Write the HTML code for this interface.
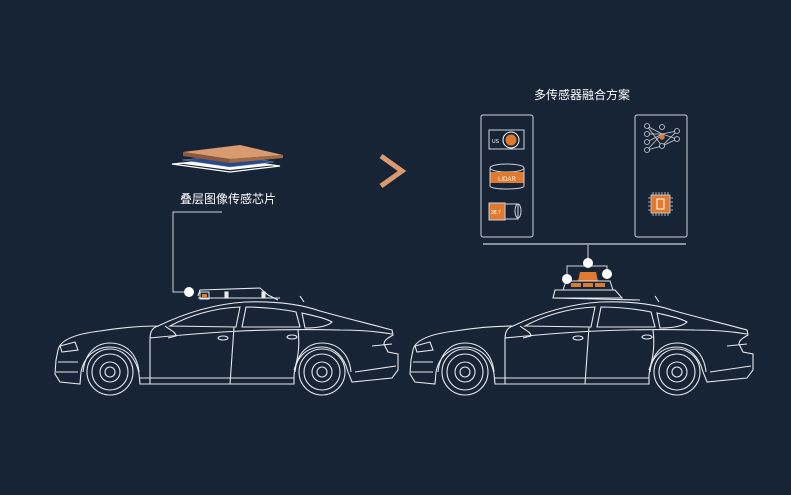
<!DOCTYPE html>
<html><head><meta charset="utf-8"><style>
html,body{margin:0;padding:0;background:#172436;width:791px;height:495px;overflow:hidden}
svg{display:block}
text{font-family:"Liberation Sans","Noto Sans CJK SC",sans-serif;fill:#fff}
</style></head><body>
<svg width="791" height="495" viewBox="0 0 791 495">
<defs>
<g id="car" fill="none" stroke="#e6e9ee" stroke-width="1.1">
  <path d="M58,350 C60,340 75,334 100,331 C125,327 145,326 158,326 C185,313 215,304 245,302 C275,301 300,304 320,311 C345,318 370,324 392,330 L393,335 C388,338 384,340 384,344 L388,352 L398,354 L398,370 L392,378 L352,382 L348,372 C344,356 334,347 322,347 C306,347 295,358 294,376 L294,384 L140,384 L139,374 C136,356 124,347 110,347 C96,347 84,356 81,372 L80,384 L60,382 L55,374 L56,360 Z"/>
  <path d="M158,326 C150,328 150,336 150,340 L150,384"/>
  <path d="M170,326 C190,315 215,308 240,307 L236,327 Z"/>
  <path d="M246,307 C262,307 282,309 296,312 L300,327 L242,327 Z"/>
  <path d="M302,313 C315,316 325,318 332,322 C328,326 318,328 305,328 Z"/>
  <path d="M150,338 C200,333 260,328 340,330 C360,330 380,332 392,334"/>
  <path d="M234,327 L230,384 M298,330 C300,345 298,360 294,370"/>
  <path d="M165,326 C170,330 176,332 176,336 L168,338"/>
  <ellipse cx="223" cy="338" rx="5" ry="2"/><ellipse cx="292" cy="337" rx="5" ry="2"/>
  <path d="M60,346 L75,342 L78,350 L62,352 Z M58,362 L78,362 M56,372 L78,372"/>
  <path d="M140,378 L294,378 M372,346 L392,344 M355,372 L396,366"/>
  <circle cx="110" cy="372" r="23"/><circle cx="110" cy="372" r="18"/><circle cx="110" cy="372" r="10"/><circle cx="110" cy="372" r="5"/>
  <circle cx="322" cy="372" r="23"/><circle cx="322" cy="372" r="18"/><circle cx="322" cy="372" r="10"/><circle cx="322" cy="372" r="5"/>
  <path d="M83,372 C85,352 97,343 110,343 C124,343 137,352 139,372"/>
  <path d="M295,372 C297,352 309,343 322,343 C336,343 349,352 351,372"/>
  <path d="M300,296 L304,302"/>
</g>
</defs>

<use href="#car"/>
<g fill="none" stroke="#e6e9ee" stroke-width="1.1">
  <path d="M198,296 L200,290 L260,288 L268,295 L278,300 M198,298 L280,298"/>
  <rect x="225" y="292" width="3" height="6" fill="#e6e9ee"/>
  <rect x="262" y="292" width="3" height="6" fill="#e6e9ee"/>
</g>
<rect x="200" y="292" width="9" height="7" fill="none" stroke="#e6e9ee"/>
<rect x="202" y="294" width="5" height="4" fill="#e07a2e"/>
<polyline points="222,212 173,212 173,292 184,292" fill="none" stroke="#cfd3da" stroke-width="1"/>
<circle cx="189" cy="292" r="5" fill="#fff"/>

<!-- chip -->
<polygon points="172,164 230,172 280,166 232,160" fill="none" stroke="#fff" stroke-width="1.2"/>
<polygon points="176,163 230,170 276,165 232,158" fill="#fff"/>
<polygon points="182,160 230,167 274,162 234,155" fill="#2a4a86" stroke="#6a8ad0" stroke-width="0.6"/>
<polygon points="183,152 230,159 283,155 240,145" fill="#d89a6e"/>
<polygon points="183,152 230,159 230,163 183,156" fill="#8a5a3a"/>
<polygon points="230,159 283,155 283,158 230,163" fill="#a06a45"/>
<text x="228" y="203" font-size="12" text-anchor="middle">叠层图像传感芯片</text>

<polyline points="381,156 402,171 381,186" fill="none" stroke="#d89a6e" stroke-width="5"/>

<use href="#car" x="355"/>
<g fill="none" stroke="#e6e9ee" stroke-width="1.1">
  <path d="M553,298 L555,290 L615,290 L622,298 Z M553,298 L640,300"/>
</g>
<path d="M578,281 L580,272 L596,272 L598,281 Z" fill="#e07a2e"/>
<rect x="571" y="283" width="10" height="4" fill="#e07a2e"/><rect x="583" y="283" width="10" height="4" fill="#e07a2e"/><rect x="595" y="283" width="10" height="4" fill="#e07a2e"/>
<path d="M563,290 L566,281 L610,281 L613,290 Z" fill="none" stroke="#e6e9ee"/>
<polyline points="567,279 567,266 607,266 607,273" fill="none" stroke="#cfd3da"/>
<line x1="588" y1="245" x2="588" y2="262" stroke="#cfd3da"/>
<line x1="483" y1="244" x2="686" y2="244" stroke="#cfd3da" stroke-width="1.3"/>
<circle cx="588" cy="263" r="5" fill="#fff"/><circle cx="567" cy="279" r="5" fill="#fff"/><circle cx="607" cy="274" r="5" fill="#fff"/>

<text x="582" y="99" font-size="12" text-anchor="middle">多传感器融合方案</text>

<rect x="481" y="115" width="52" height="122" rx="2" fill="none" stroke="#cfd3da"/>
<rect x="635" y="115" width="52" height="122" rx="2" fill="none" stroke="#cfd3da"/>
<rect x="489" y="130" width="35" height="19" fill="none" stroke="#cfd3da"/>
<circle cx="511" cy="140" r="8" fill="none" stroke="#fff"/><circle cx="511" cy="140" r="5.5" fill="#e07a2e"/>
<text x="492" y="143" font-size="5" fill="#cfd3da">US</text>
<ellipse cx="507" cy="168" rx="17" ry="4" fill="none" stroke="#cfd3da"/>
<rect x="490" y="172" width="34" height="11" fill="#e07a2e"/>
<path d="M490,168 L490,186 C490,190 524,190 524,186 L524,168" fill="none" stroke="#cfd3da"/>
<text x="507" y="181" font-size="6" text-anchor="middle">LIDAR</text>
<rect x="489" y="203" width="16" height="17" fill="#e07a2e" stroke="#cfd3da"/>
<text x="491" y="214" font-size="5">38.7</text>
<rect x="505" y="204" width="13" height="15" fill="none" stroke="#cfd3da"/>
<ellipse cx="518" cy="211" rx="3" ry="7" fill="none" stroke="#cfd3da"/>
<g stroke="#cfd3da" stroke-width="0.8" fill="#172436">
  <path d="M647,126 L662,134 L677,131 M647,134 L662,134 M647,142 L662,134 L677,139 M647,150 L662,146 L677,139 M647,126 L662,146 M647,150 L662,134 M662,146 L677,131"/>
  <circle cx="647" cy="126" r="2.5"/><circle cx="647" cy="134" r="2.5"/><circle cx="647" cy="142" r="2.5"/><circle cx="647" cy="150" r="2.5"/>
  <circle cx="662" cy="127" r="2.5"/><circle cx="662" cy="146" r="2.5"/>
  <circle cx="677" cy="131" r="2.5"/><circle cx="677" cy="139" r="2.5"/>
</g>
<circle cx="662" cy="137" r="2.7" fill="#e07a2e"/>
<g stroke="#cfd3da" stroke-width="0.8">
  <path d="M653,195 v-3 M656,195 v-3 M659,195 v-3 M662,195 v-3 M665,195 v-3 M668,195 v-3 M653,213 v3 M656,213 v3 M659,213 v3 M662,213 v3 M665,213 v3 M668,213 v3 M651,198 h-3 M651,202 h-3 M651,206 h-3 M651,210 h-3 M670,198 h3 M670,202 h3 M670,206 h3 M670,210 h3"/>
</g>
<rect x="651" y="195" width="19" height="18" fill="#e07a2e" stroke="#cfd3da" stroke-width="0.8"/>
<rect x="657" y="199" width="7" height="10" fill="none" stroke="#fff" stroke-width="1"/>
</svg>
</body></html>
